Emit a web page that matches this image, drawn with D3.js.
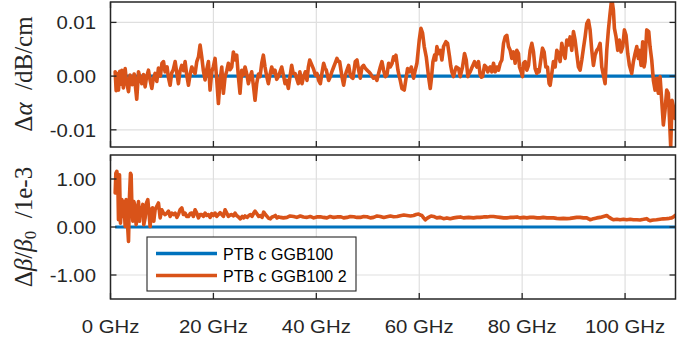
<!DOCTYPE html>
<html>
<head>
<meta charset="utf-8">
<script src="https://cdn.jsdelivr.net/npm/d3@7"></script>
<style>
  html, body { margin: 0; padding: 0; background: #fff; }
  svg { display: block; }
  .tick-label { font-family: "Liberation Sans", Arial, sans-serif; font-size: 18.5px; fill: #262626; }
  .ylab { font-family: "Liberation Serif", "Times New Roman", serif; font-size: 25px; fill: #262626; }
  .legend-text { font-family: "Liberation Sans", Arial, sans-serif; font-size: 16px; fill: #000; }
</style>
</head>
<body>
<svg id="chart" width="697" height="347"></svg>
<script>
// Attenuation difference Δα (dB/cm) versus frequency (GHz)
const freqAlpha = [0.91,1.1,1.3,1.55,1.8,2.0,2.2,2.5,2.85,3.1,3.5,3.8,4.2,4.6,5.1,5.44,5.8,6.08,6.4,6.73,7.0,7.38,7.7,8.03,8.3,8.67,9.0,9.32,9.7,10.0,10.3,10.6,11.0,11.26,11.59,11.9,12.2,12.56,12.9,13.2,13.5,13.85,14.2,14.5,14.8,15.15,15.5,15.8,16.1,16.44,16.77,17.1,17.41,17.73,18.05,18.38,18.7,19.03,19.35,19.68,20.0,20.32,20.65,20.97,21.3,21.62,21.94,22.27,22.6,22.91,23.25,23.56,23.88,24.2,24.53,24.85,25.17,25.5,25.8,26.15,26.5,26.8,27.1,27.44,27.8,28.09,28.41,28.75,29.06,29.39,29.71,30.03,30.35,30.68,31.0,31.33,31.65,31.97,32.3,32.62,32.95,33.27,33.6,33.92,34.25,34.56,34.9,35.21,35.5,35.86,36.2,36.5,36.8,
  37.22,37.5,37.86,38.19,38.45,38.71,39.16,39.5,39.81,40.13,40.45,40.78,41.1,41.42,41.7,41.94,42.2,42.39,42.72,43.05,43.37,43.7,44.01,44.3,44.53,44.98,45.31,45.6,45.83,46.28,46.6,46.9,47.12,47.57,47.9,48.22,48.54,48.87,49.19,49.5,49.84,50.2,50.49,50.8,51.13,51.5,51.78,52.1,52.43,52.75,53.07,53.4,53.72,54.05,54.37,54.7,55.02,55.3,55.47,55.86,56.1,56.31,56.63,57.09,57.48,57.73,58.12,58.45,58.9,59.22,59.55,60.0,60.33,60.65,60.97,61.36,61.81,62.14,62.33,62.66,62.98,63.2,63.43,63.75,64.08,64.4,64.72,65.18,65.5,65.89,66.1,66.34,66.67,66.9,67.18,67.64,67.96,68.2,68.41,68.8,69.13,69.45,69.7,69.9,70.2,70.42,70.74,71.0,71.2,71.52,71.84,72.1,72.3,72.69,73.01,73.33,73.6,73.79,
  74.11,74.43,74.76,75.08,75.4,75.73,76.05,76.38,76.7,77.02,77.35,77.67,77.99,78.32,78.64,78.96,79.29,79.48,79.81,80.06,80.26,80.58,80.91,81.23,81.55,81.88,82.2,82.52,82.85,83.1,83.3,83.62,83.95,84.27,84.6,84.92,85.24,85.44,85.76,86.08,86.41,86.73,87.05,87.38,87.7,88.03,88.35,88.67,89.0,89.32,89.64,89.97,90.29,90.61,90.94,91.26,91.59,91.91,92.23,92.56,92.88,93.2,93.53,93.85,94.17,94.5,94.82,95.15,95.47,95.79,96.12,96.44,96.76,97.09,97.41,97.73,97.93,98.25,98.58,98.9,99.22,99.55,99.87,100.19,100.52,100.84,101.29,101.62,101.94,102.27,102.59,102.78,103.11,103.43,103.69,103.88,104.21,104.6,104.85,105.18,105.5,105.83,106.15,106.47,106.8,107.12,107.44,107.77,108.09,108.41,108.61,108.87,109.13,109.39,109.71];

const deltaAlpha = [0.0008,-0.0027,0.0005,-0.0026,0.0009,-0.0015,0.0011,-0.0022,0.0014,-0.0010,-0.0029,0.0002,-0.0016,0.0004,-0.0043,0.0008,-0.0005,-0.0014,0.0003,-0.0020,-0.0002,0.0011,-0.0008,-0.0023,-0.0006,0.0005,-0.0010,0.0015,0.0000,0.0024,0.0027,0.0008,0.0017,-0.0003,-0.0017,0.0006,0.0012,0.0027,0.0005,-0.0014,0.0009,0.0020,0.0010,0.0027,0.0003,-0.0017,0.0005,0.0017,0.0010,0.0005,0.0027,0.0036,0.0058,0.0036,0.0010,-0.0007,0.0012,0.0027,-0.0026,0.0008,0.0018,0.0033,-0.0007,-0.0051,-0.0007,0.0017,-0.0032,-0.0001,0.0010,0.0024,0.0012,0.0017,0.0045,0.0030,0.0039,-0.0001,-0.0032,0.0011,0.0002,0.0017,0.0003,-0.0014,-0.0002,0.0008,-0.0020,-0.0045,-0.0014,0.0004,-0.0001,0.0024,0.0039,0.0017,0.0000,-0.0014,0.0003,0.0017,0.0006,0.0011,-0.0006,-0.0001,0.0008,0.0017,0.0002,-0.0014,-0.0008,-0.0023,0.0000,0.0020,0.0005,0.0005,-0.0005,-0.0014,0.0008,
  -0.0014,-0.0002,0.0008,-0.0008,0.0017,0.0030,0.0020,0.0012,0.0002,0.0005,-0.0008,-0.0014,0.0006,0.0024,0.0015,0.0011,0.0000,-0.0008,-0.0001,0.0009,0.0017,0.0025,0.0033,0.0027,0.0027,-0.0001,-0.0017,0.0000,0.0008,0.0020,0.0002,-0.0003,-0.0004,0.0027,0.0030,0.0011,-0.0004,0.0017,0.0020,0.0015,0.0011,0.0008,0.0005,0.0000,-0.0004,-0.0002,-0.0008,0.0005,0.0017,0.0027,0.0011,-0.0001,0.0002,0.0024,0.0017,0.0023,0.0036,0.0030,0.0039,0.0011,0.0000,-0.0008,-0.0023,-0.0026,-0.0001,0.0014,0.0008,0.0017,-0.0004,0.0011,0.0024,0.0067,0.0089,0.0080,0.0055,0.0036,-0.0001,-0.0023,-0.0008,0.0027,0.0039,0.0030,0.0055,0.0042,0.0048,0.0030,0.0055,0.0064,0.0061,0.0036,0.0020,0.0008,-0.0001,0.0008,0.0017,0.0014,-0.0001,0.0009,0.0017,0.0042,0.0030,-0.0001,0.0005,0.0008,0.0015,0.0020,0.0027,0.0020,0.0017,0.0027,0.0002,-0.0002,-0.0001,0.0020,0.0017,0.0008,0.0015,0.0017,
  0.0008,0.0024,0.0008,0.0017,0.0011,0.0024,0.0030,0.0061,0.0073,0.0076,0.0055,0.0048,0.0033,0.0045,0.0024,0.0048,0.0042,0.0017,0.0008,-0.0001,0.0024,0.0027,0.0011,0.0020,0.0048,0.0061,0.0045,0.0014,0.0005,0.0012,0.0008,0.0030,0.0052,0.0045,0.0017,0.0017,-0.0014,-0.0017,0.0005,0.0027,0.0017,0.0048,0.0042,0.0027,0.0061,0.0045,0.0033,0.0067,0.0058,0.0073,0.0048,0.0083,0.0067,0.0042,0.0017,0.0011,0.0030,0.0052,0.0073,0.0098,0.0104,0.0086,0.0048,0.0020,0.0039,0.0048,0.0052,0.0061,0.0017,0.0002,-0.0014,0.0048,0.0086,0.0117,0.0145,0.0123,0.0089,0.0073,0.0048,0.0067,0.0045,0.0055,0.0086,0.0076,0.0042,0.0020,0.0005,0.0027,0.0042,0.0055,0.0033,0.0048,0.0020,0.0064,0.0017,0.0027,0.0086,0.0083,0.0055,0.0030,-0.0008,-0.0026,-0.0004,-0.0032,-0.0001,-0.0045,-0.0091,-0.0063,-0.0026,-0.0032,-0.0076,-0.0132,-0.0045,-0.0057,-0.0079];

// Relative phase-constant difference Δβ/β0 (units of 1e-3) versus frequency (GHz)
const freqBeta = [0.91,1.04,1.23,1.42,1.55,1.75,1.94,2.2,2.39,2.59,2.85,3.04,3.24,3.37,3.5,3.69,3.88,4.01,4.14,4.34,4.53,4.79,4.98,5.18,5.44,5.63,5.83,6.08,6.28,6.47,6.73,6.99,7.25,7.51,7.7,7.9,8.16,8.41,8.67,9.0,9.32,9.65,9.97,10.29,10.61,10.94,11.26,11.59,11.91,12.23,12.56,12.9,13.2,13.53,13.85,14.17,14.5,14.8,15.15,15.5,15.79,16.1,16.44,16.76,17.09,17.4,17.73,18.05,18.38,18.7,19.03,19.35,19.68,20.0,20.32,20.65,20.97,21.3,21.62,21.94,22.27,22.59,22.91,23.25,23.56,23.9,24.21,24.5,24.85,25.24,25.6,25.9,26.15,26.54,26.9,27.2,27.5,27.83,28.1,28.48,28.8,29.13,29.45,29.77,30.1,30.42,30.75,31.07,31.4,31.72,32.04,32.36,32.7,33.01,33.6,34.3,34.9,35.6,36.2,36.89,37.5,38.19,38.8,39.48,40.1,40.78,41.4,42.07,42.7,43.37,44.0,44.66,45.3,45.95,46.6,47.25,47.9,48.54,49.2,49.84,50.5,51.13,51.8,52.43,53.1,53.72,54.4,55.02,55.7,56.31,57.0,57.61,58.3,58.9,59.4,59.87,60.2,60.52,60.85,61.17,61.5,61.81,62.3,62.78,63.4,64.08,64.72,65.37,66.02,66.7,67.31,68.0,68.61,69.6,70.55,71.2,71.84,72.5,73.14,73.8,74.43,75.1,75.73,76.4,77.02,77.7,78.32,79.0,79.61,80.3,80.91,81.5,82.2,82.9,83.5,84.1,84.79,85.4,86.08,86.7,87.38,88.0,88.67,89.3,89.97,90.6,91.26,91.9,92.56,92.9,93.2,93.5,93.85,94.5,95.15,95.8,96.44,96.8,97.09,97.4,97.73,98.4,99.03,99.7,100.32,101.0,101.62,102.3,102.91,103.6,104.21,104.5,104.85,105.2,105.5,106.1,106.8,107.4,108.09,108.6,109.06,109.4,109.71];

const deltaBeta = [0.71,1.12,1.16,0.99,0.15,1.09,0.08,0.57,0.22,0.53,0.01,0.57,0.36,-0.06,-0.30,0.64,1.12,1.09,0.50,0.12,0.53,0.43,0.05,0.19,0.53,0.12,0.40,0.36,0.47,0.05,0.19,0.50,0.57,0.26,0.01,0.36,0.40,0.12,0.36,0.43,0.50,0.19,0.36,0.29,0.26,0.29,0.33,0.22,0.29,0.26,0.29,0.20,0.26,0.36,0.40,0.26,0.29,0.22,0.22,0.28,0.29,0.22,0.36,0.29,0.19,0.26,0.26,0.22,0.29,0.24,0.26,0.20,0.28,0.24,0.29,0.22,0.26,0.30,0.26,0.22,0.36,0.29,0.22,0.25,0.26,0.23,0.29,0.24,0.21,0.17,0.22,0.19,0.23,0.20,0.24,0.26,0.22,0.29,0.33,0.27,0.22,0.24,0.20,0.31,0.26,0.22,0.18,0.17,0.21,0.22,0.24,0.19,0.21,0.20,0.19,0.20,0.23,0.22,0.20,0.23,0.21,0.20,0.22,0.19,0.21,0.215,0.20,0.19,0.22,0.20,0.21,0.215,0.19,0.20,0.22,0.215,0.20,0.20,0.22,0.215,0.19,0.20,0.23,0.22,0.20,0.215,0.23,0.215,0.22,0.236,0.25,0.24,0.23,0.24,0.26,0.27,0.25,0.24,0.19,0.15,0.18,0.20,0.23,0.22,0.19,0.20,0.174,0.19,0.174,0.19,0.20,0.21,0.19,0.20,0.19,0.20,0.20,0.21,0.21,0.22,0.22,0.21,0.20,0.19,0.19,0.20,0.20,0.21,0.19,0.20,0.19,0.20,0.20,0.19,0.19,0.20,0.19,0.19,0.19,0.18,0.174,0.18,0.174,0.18,0.19,0.20,0.20,0.19,0.19,0.17,0.15,0.16,0.174,0.19,0.20,0.22,0.24,0.21,0.19,0.17,0.15,0.16,0.15,0.16,0.15,0.16,0.15,0.15,0.146,0.16,0.174,0.15,0.13,0.14,0.146,0.15,0.16,0.17,0.174,0.18,0.19,0.21,0.24];

// Reference series (identically zero)
const refAlpha = freqAlpha.map(() => 0);
const refBeta = freqBeta.map(() => 0);

const xTicks = [0, 20, 40, 60, 80, 100];
const xTickLabels = ["0 GHz", "20 GHz", "40 GHz", "60 GHz", "80 GHz", "100 GHz"];
const alphaTicks = [-0.01, 0, 0.01];
const betaTicks = [-1, 0, 1];
const seriesNames = ["PTB c GGB100", "PTB c GGB100 2"];
const seriesColors = ["#0072BD", "#D95319"];

const fmt = d3.formatLocale({ decimal: ".", thousands: ",", grouping: [3], currency: ["", ""], minus: "-" }).format(".2f");

const svg = d3.select("#chart");
const left = 110.5, right = 675.5;
const x = d3.scaleLinear().domain([0, 109.8]).range([left, right]);

const panels = [
  { top: 2, bottom: 147, domain: [-0.0132, 0.0138], ticks: alphaTicks, f: freqAlpha, v: deltaAlpha, ref: refAlpha, id: "a" },
  { top: 155, bottom: 299, domain: [-1.5, 1.5], ticks: betaTicks, f: freqBeta, v: deltaBeta, ref: refBeta, id: "b" }
];

const axisColor = "#262626";
const gridColor = "#dfdfdf";
const tickLen = 6;
const stretch = 1.1; // horizontal widening of tick-label glyphs

panels.forEach(p => {
  const y = d3.scaleLinear().domain(p.domain).range([p.bottom, p.top]);
  p.y = y;
  const g = svg.append("g");

  g.append("clipPath").attr("id", "clip-" + p.id)
    .append("rect").attr("x", left).attr("y", p.top).attr("width", right - left).attr("height", p.bottom - p.top);

  // grid
  g.selectAll(".gx").data(xTicks).join("line")
    .attr("x1", d => x(d)).attr("x2", d => x(d)).attr("y1", p.top).attr("y2", p.bottom)
    .attr("stroke", gridColor).attr("stroke-width", 1.2);
  g.selectAll(".gy").data(p.ticks).join("line")
    .attr("x1", left).attr("x2", right).attr("y1", d => y(d)).attr("y2", d => y(d))
    .attr("stroke", gridColor).attr("stroke-width", 1.2);

  // series
  const plot = g.append("g").attr("clip-path", `url(#clip-${p.id})`);
  const line = d3.line().x(d => x(d[0])).y(d => y(d[1]));
  plot.append("path").datum(d3.zip(p.f, p.ref)).attr("d", line)
    .attr("fill", "none").attr("stroke", seriesColors[0]).attr("stroke-width", 3.2);
  plot.append("path").datum(d3.zip(p.f, p.v)).attr("d", line)
    .attr("fill", "none").attr("stroke", seriesColors[1]).attr("stroke-width", 3.6)
    .attr("stroke-linejoin", "round").attr("stroke-linecap", "round");

  // inward ticks on all four sides
  g.selectAll(".tb").data(xTicks).join("line")
    .attr("x1", d => x(d)).attr("x2", d => x(d)).attr("y1", p.bottom).attr("y2", p.bottom - tickLen)
    .attr("stroke", axisColor).attr("stroke-width", 1.3);
  g.selectAll(".tt").data(xTicks).join("line")
    .attr("x1", d => x(d)).attr("x2", d => x(d)).attr("y1", p.top).attr("y2", p.top + tickLen)
    .attr("stroke", axisColor).attr("stroke-width", 1.3);
  g.selectAll(".tl").data(p.ticks).join("line")
    .attr("x1", left).attr("x2", left + tickLen).attr("y1", d => y(d)).attr("y2", d => y(d))
    .attr("stroke", axisColor).attr("stroke-width", 1.3);
  g.selectAll(".tr").data(p.ticks).join("line")
    .attr("x1", right).attr("x2", right - tickLen).attr("y1", d => y(d)).attr("y2", d => y(d))
    .attr("stroke", axisColor).attr("stroke-width", 1.3);

  // box
  g.append("rect").attr("x", left).attr("y", p.top).attr("width", right - left).attr("height", p.bottom - p.top)
    .attr("fill", "none").attr("stroke", axisColor).attr("stroke-width", 1.5);

  // y tick labels
  g.selectAll(".yl").data(p.ticks).join("text").attr("class", "tick-label")
    .attr("transform", d => `translate(96,${y(d) + 7}) scale(${stretch},1)`)
    .attr("text-anchor", "end").text(d => fmt(d));
});

// x tick labels under the lower panel
svg.selectAll(".xl").data(xTicks).join("text").attr("class", "tick-label")
  .attr("transform", d => `translate(${x(d)},333) scale(${stretch},1)`)
  .attr("text-anchor", "middle")
  .text((d, i) => xTickLabels[i]);

// y axis titles
const t1 = svg.append("text").attr("class", "ylab")
  .attr("transform", `translate(32,74) rotate(-90)`)
  .attr("text-anchor", "middle");
t1.append("tspan").text("Δ");
t1.append("tspan").attr("font-style", "italic").text("α");
t1.append("tspan").text("\u2002/dB/cm");

const t2 = svg.append("text").attr("class", "ylab")
  .attr("transform", `translate(32,227) rotate(-90)`)
  .attr("text-anchor", "middle");
t2.append("tspan").text("Δ");
t2.append("tspan").attr("font-style", "italic").text("β");
t2.append("tspan").text("/");
t2.append("tspan").attr("font-style", "italic").text("β");
t2.append("tspan").attr("font-size", "17px").attr("dy", 4).text("0");
t2.append("tspan").attr("dy", -4).text("\u2002/1e-3");

// legend
const lg = svg.append("g");
lg.append("rect").attr("x", 147).attr("y", 237).attr("width", 209).attr("height", 54)
  .attr("fill", "#fff").attr("stroke", axisColor).attr("stroke-width", 1.1);
seriesNames.forEach((name, i) => {
  const yy = 253.5 + i * 22;
  lg.append("line").attr("x1", 156).attr("x2", 217).attr("y1", yy).attr("y2", yy)
    .attr("stroke", seriesColors[i]).attr("stroke-width", 3.6);
  lg.append("text").attr("class", "legend-text").attr("x", 223).attr("y", yy + 6).text(name);
});
</script>
</body>
</html>
